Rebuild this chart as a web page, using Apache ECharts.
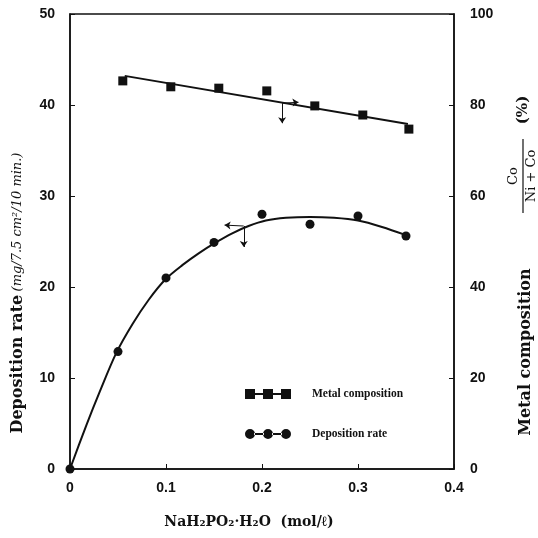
<!DOCTYPE html>
<html>
<head>
<meta charset="utf-8">
<script src="https://cdn.jsdelivr.net/npm/echarts@6/dist/echarts.min.js"></script>
<style>
  html, body { margin: 0; padding: 0; background: #fff; }
  #chart { width: 538px; height: 538px; }
</style>
</head>
<body>
<div id="chart"></div>
<script>
// measured points
const depX = [0, 0.05, 0.1, 0.15, 0.2, 0.25, 0.3, 0.35]
const depRate = [0, 12.9, 21.0, 24.9, 28.0, 26.9, 27.8, 25.6]
const metalX = [0.055, 0.105, 0.155, 0.205, 0.255, 0.305, 0.353]
const metalComp = [85.3, 84.0, 83.7, 83.1, 79.8, 77.8, 74.7]

// hand-drawn fit curves
const depFitX = [0, 0.017, 0.031, 0.048, 0.065, 0.082, 0.1, 0.117, 0.134, 0.152, 0.169, 0.186, 0.204, 0.225, 0.25, 0.275, 0.3, 0.325, 0.35]
const depFitY = [0, 4.8, 8.5, 12.7, 15.9, 18.6, 20.9, 22.4, 23.7, 24.9, 25.9, 26.7, 27.3, 27.6, 27.7, 27.6, 27.3, 26.6, 25.7]
const metalFitX = [0.057, 0.352]
const metalFitY = [86.4, 75.8]

// little arrows telling which axis each curve belongs to
const metalArrowV = [[0.221, 80.4], [0.221, 76.0]]
const metalArrowH = [[0.221, 80.4], [0.238, 80.6]]
const depArrowV = [[0.181, 26.7], [0.181, 24.4]]
const depArrowH = [[0.181, 26.7], [0.161, 26.8]]

const zip = (xs, ys) => xs.map((x, i) => [x, ys[i]])
const arrowLine = (pts) => [{ coord: pts[0] }, { coord: pts[1] }]

const chart = echarts.init(document.getElementById('chart'))

const tickFont = { color: '#111', fontFamily: 'Liberation Sans', fontWeight: 'bold', fontSize: 14 }
const nameFont = 'bold 15px "DejaVu Serif"'

const squareIcon = 'path://M0,0h10v10h-10z M18,0h10v10h-10z M36,0h10v10h-10z M10,4h8v2h-8z M28,4h8v2h-8z'
const circleIcon = 'path://M0,5a5,5 0 1,0 10,0a5,5 0 1,0 -10,0z M18,5a5,5 0 1,0 10,0a5,5 0 1,0 -10,0z M36,5a5,5 0 1,0 10,0a5,5 0 1,0 -10,0z M9,4h10v2h-10z M27,4h10v2h-10z'

const option = {
  animation: false,
  backgroundColor: '#fff',
  grid: {
    left: 70, right: 84, top: 14, bottom: 69,
    show: true, borderColor: '#111', borderWidth: 1.5, backgroundColor: 'transparent'
  },
  legend: {
    orient: 'vertical',
    left: 240, top: 383,
    itemWidth: 46, itemHeight: 10, itemGap: 28,
    textStyle: { fontFamily: 'Liberation Serif', fontWeight: 'bold', fontSize: 11.5, color: '#111', padding: [0, 0, 0, 16] },
    data: [
      { name: 'Metal composition', icon: squareIcon },
      { name: 'Deposition rate', icon: circleIcon }
    ]
  },
  xAxis: {
    type: 'value', min: 0, max: 0.4, interval: 0.1,
    axisLine: { show: true, lineStyle: { color: '#111', width: 1.5 } },
    axisTick: { show: true, inside: true, length: 5, lineStyle: { color: '#111' } },
    axisLabel: Object.assign({ margin: 12, formatter: v => v === 0 ? '0' : String(v) }, tickFont),
    splitLine: { show: false }
  },
  yAxis: [
    {
      type: 'value', min: 0, max: 50, interval: 10,
      axisLine: { show: true, lineStyle: { color: '#111', width: 1.5 } },
      axisTick: { show: true, inside: true, length: 5, lineStyle: { color: '#111' } },
      axisLabel: Object.assign({ margin: 15 }, tickFont),
      splitLine: { show: false }
    },
    {
      type: 'value', min: 0, max: 100, interval: 20, position: 'right',
      axisLine: { show: true, lineStyle: { color: '#111', width: 1.5 } },
      axisTick: { show: true, inside: true, length: 5, lineStyle: { color: '#111' } },
      axisLabel: Object.assign({ margin: 16 }, tickFont),
      splitLine: { show: false }
    }
  ],
  series: [
    {
      name: 'Metal composition', type: 'scatter', yAxisIndex: 1,
      symbol: 'rect', symbolSize: 9, itemStyle: { color: '#111', opacity: 1 },
      data: zip(metalX, metalComp), z: 4
    },
    {
      name: 'Deposition rate', type: 'scatter', yAxisIndex: 0,
      symbol: 'circle', symbolSize: 9, itemStyle: { color: '#111', opacity: 1 },
      data: zip(depX, depRate), z: 4
    },
    {
      type: 'line', yAxisIndex: 1, symbol: 'none',
      lineStyle: { color: '#111', width: 2 },
      data: zip(metalFitX, metalFitY),
      markLine: {
        silent: true, symbol: ['none', 'arrow'], symbolSize: 6,
        label: { show: false },
        lineStyle: { color: '#111', width: 1, type: 'solid' },
        data: [arrowLine(metalArrowV), arrowLine(metalArrowH)]
      }
    },
    {
      type: 'line', yAxisIndex: 0, symbol: 'none', smooth: 0.3,
      lineStyle: { color: '#111', width: 2 },
      data: zip(depFitX, depFitY),
      markLine: {
        silent: true, symbol: ['none', 'arrow'], symbolSize: 6,
        label: { show: false },
        lineStyle: { color: '#111', width: 1, type: 'solid' },
        data: [arrowLine(depArrowV), arrowLine(depArrowH)]
      }
    }
  ],
  graphic: [
    {
      type: 'text', x: 249, y: 522,
      style: { text: 'NaH₂PO₂·H₂O  (mol/ℓ)', font: 'bold 14px "DejaVu Serif"', fill: '#111', align: 'center', verticalAlign: 'middle' }
    },
    {
      type: 'group', x: 18, y: 293, rotation: Math.PI / 2,
      children: [
        {
          type: 'text',
          style: {
            text: '{a|Deposition rate} {b|(mg/7.5 cm²/10 min.)}',
            rich: {
              a: { font: 'bold 16px "DejaVu Serif"', fill: '#111' },
              b: { font: 'italic 13px "DejaVu Serif"', fill: '#111' }
            },
            align: 'center', verticalAlign: 'middle'
          }
        }
      ]
    },
    {
      type: 'group', x: 526, y: 352, rotation: Math.PI / 2,
      children: [
        { type: 'text', style: { text: 'Metal composition', font: 'bold 16px "DejaVu Serif"', fill: '#111', align: 'center', verticalAlign: 'middle' } }
      ]
    },
    {
      type: 'group', x: 523, y: 176, rotation: Math.PI / 2,
      children: [
        { type: 'text', x: 0, y: -9, style: { text: 'Co', font: '13px "DejaVu Serif"', fill: '#111', align: 'center', verticalAlign: 'middle' } },
        { type: 'line', shape: { x1: -37, y1: 0, x2: 37, y2: 0 }, style: { stroke: '#111', lineWidth: 1.2 } },
        { type: 'text', x: 0, y: 9, style: { text: 'Ni + Co', font: '13px "DejaVu Serif"', fill: '#111', align: 'center', verticalAlign: 'middle' } },
        { type: 'text', x: 66, y: 0, style: { text: '(%)', font: nameFont, fill: '#111', align: 'center', verticalAlign: 'middle' } }
      ]
    }
  ]
}

chart.setOption(option)
</script>
</body>
</html>
